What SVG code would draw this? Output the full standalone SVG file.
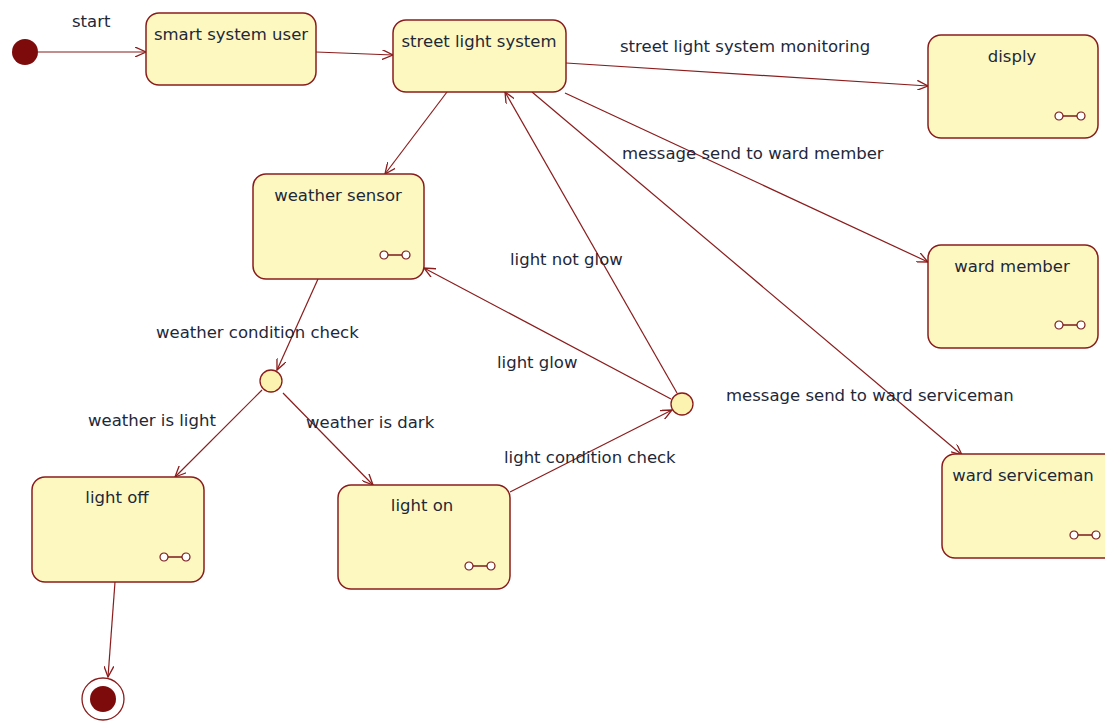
<svg xmlns="http://www.w3.org/2000/svg" width="1105" height="728" viewBox="0 0 1105 728">
<defs>
<style>
.st rect{fill:#fdf8c0;stroke:#8a1c1c;stroke-width:1.5}
.lbl{font-family:"DejaVu Sans",Verdana,sans-serif;font-size:16.5px;fill:#1e2838}
.nl{text-anchor:middle}
.ic circle{fill:#fff;stroke:#7a1a1a;stroke-width:1.2}
.ic line{stroke:#7a1a1a;stroke-width:1.5}
.cn path{fill:none;stroke:#8a1c1c;stroke-width:1.2;marker-end:url(#ah)}
.dec{fill:#fdf3b0;stroke:#8a1c1c;stroke-width:1.3}
</style>
<marker id="ah" viewBox="0 0 12 10" refX="11" refY="5" markerWidth="12" markerHeight="10" markerUnits="userSpaceOnUse" orient="auto">
<path d="M0,0 L11,5 L0,10" fill="none" stroke="#8a1c1c" stroke-width="1.3"/>
</marker>
<g id="icon" class="ic"><line x1="-11" y1="0" x2="11" y2="0"/><circle cx="-11" cy="0" r="4"/><circle cx="11" cy="0" r="4"/></g>
</defs>
<rect width="1105" height="728" fill="#ffffff"/>

<g id="connectors" class="cn">
<path d="M38,52 L146,52"/>
<path d="M316,52 L393,55"/>
<path d="M566,63 L928,86"/>
<path d="M565,93 L928,262"/>
<path d="M532,92 L962,455"/>
<path d="M447,92 L385,174"/>
<path d="M318,279 L277,370"/>
<path d="M262,390 L175,477"/>
<path d="M283,393 L373,485"/>
<path d="M510,492 L672,410"/>
<path d="M671,399 L424,268"/>
<path d="M677,393 L505,92"/>
<path d="M115,582 L108,677"/>
</g>

<g id="connector-labels" class="lbl">
<text x="72" y="27">start</text>
<text x="620" y="52">street light system monitoring</text>
<text x="622" y="159">message send to ward member</text>
<text x="510" y="265">light not glow</text>
<text x="156" y="338">weather condition check</text>
<text x="497" y="368">light glow</text>
<text x="726" y="401">message send to ward serviceman</text>
<text x="88" y="426">weather is light</text>
<text x="306" y="428">weather is dark</text>
<text x="504" y="463">light condition check</text>
</g>

<g id="start"><circle cx="25" cy="52" r="13" fill="#7d0b0b"/></g>

<g id="smart-system-user" class="st"><rect x="146" y="13" width="170" height="72" rx="13"/><text class="lbl nl" x="231" y="40">smart system user</text></g>
<g id="street-light-system" class="st"><rect x="393" y="20" width="173" height="72" rx="13"/><text class="lbl nl" x="479" y="47">street light system</text></g>
<g id="disply" class="st"><rect x="928" y="35" width="170" height="103" rx="13"/><text class="lbl nl" x="1012" y="62">disply</text><use href="#icon" x="1070" y="116"/></g>
<g id="weather-sensor" class="st"><rect x="253" y="174" width="171" height="105" rx="13"/><text class="lbl nl" x="338" y="201">weather sensor</text><use href="#icon" x="395" y="255"/></g>
<g id="ward-member" class="st"><rect x="928" y="245" width="170" height="103" rx="13"/><text class="lbl nl" x="1012" y="272">ward member</text><use href="#icon" x="1070" y="325"/></g>
<g id="ward-serviceman" class="st"><rect x="942" y="454" width="175" height="104" rx="13"/><text class="lbl nl" x="1023" y="481">ward serviceman</text><use href="#icon" x="1085" y="535"/></g>
<g id="light-off" class="st"><rect x="32" y="477" width="172" height="105" rx="13"/><text class="lbl nl" x="117" y="503">light off</text><use href="#icon" x="175" y="557"/></g>
<g id="light-on" class="st"><rect x="338" y="485" width="172" height="104" rx="13"/><text class="lbl nl" x="422" y="511">light on</text><use href="#icon" x="480" y="566"/></g>

<g id="decision-weather"><circle class="dec" cx="271" cy="381" r="11"/></g>
<g id="decision-light"><circle class="dec" cx="682" cy="404" r="11"/></g>

<g id="end"><circle cx="103" cy="699" r="21" fill="#fff" stroke="#8a1c1c" stroke-width="1.3"/><circle cx="103" cy="699" r="13" fill="#7d0b0b"/></g>
</svg>
